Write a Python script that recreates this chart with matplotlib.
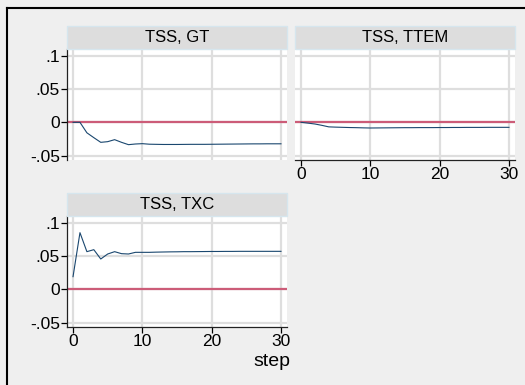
import numpy as np
import matplotlib
matplotlib.use('Agg')
import matplotlib.pyplot as plt
from matplotlib.lines import Line2D
from matplotlib.patches import Rectangle

# ======================================================================================================================
#    Data (impulse responses)
# ======================================================================================================================
steps = list(range(31))

irf_gt = [0.0, 0.0, -0.0157, -0.023, -0.030, -0.029, -0.026, -0.030, -0.0335, -0.0325,
          -0.032, -0.0328, -0.033, -0.0332, -0.0332, -0.0332, -0.0331, -0.033, -0.033, -0.033,
          -0.0329, -0.0328, -0.0327, -0.0326, -0.0325, -0.0324, -0.0323, -0.0323, -0.0322, -0.0322,
          -0.0322]

irf_ttem = [0.0, -0.0012, -0.0025, -0.0045, -0.0068, -0.0072, -0.0075, -0.0078, -0.008, -0.0083,
            -0.0085, -0.0084, -0.0083, -0.0082, -0.0081, -0.008, -0.008, -0.0079, -0.0079, -0.0079,
            -0.0078, -0.0078, -0.0077, -0.0077, -0.0076, -0.0076, -0.0076, -0.0075, -0.0075, -0.0075,
            -0.0075]

irf_txc = [0.019, 0.085, 0.0565, 0.0595, 0.0455, 0.053, 0.0565, 0.0535, 0.053, 0.0555,
           0.0555, 0.0555, 0.0558, 0.056, 0.0562, 0.0563, 0.0565, 0.0565, 0.0566, 0.0567,
           0.0568, 0.0568, 0.0569, 0.0569, 0.057, 0.057, 0.057, 0.057, 0.057, 0.057,
           0.057]

titles = ['TSS, GT', 'TSS, TTEM', 'TSS, TXC']
y_ticks = [-0.05, 0, 0.05, 0.1]
y_tick_labels = ['-.05', '0', '.05', '.1']
x_ticks = [0, 10, 20, 30]

# ======================================================================================================================
#    Style
# ======================================================================================================================
plt.rcParams['font.family'] = ['Liberation Sans', 'DejaVu Sans']
bg_color = '#efefef'
grid_color = '#dedede'
line_color = '#1a476f'
zero_color = '#cc5c78'
header_fill = '#dddddd'
header_edge = '#d6e6ee'

W, H = 525, 385
fig = plt.figure(figsize=(W / 100, H / 100), dpi=100)
fig.patch.set_facecolor(bg_color)

# frame (only top and left visible in the crop)
fig.add_artist(Line2D([7 / W, 7 / W], [0, 1 - 8 / H], color='black', lw=1.5))
fig.add_artist(Line2D([7 / W, 1], [1 - 8 / H, 1 - 8 / H], color='black', lw=1.5))

# panel boxes in pixels: (left, top, width, height)
panels = [
    (67, 49, 220, 111, irf_gt, True, False),
    (295, 49, 220, 111, irf_ttem, False, True),
    (67, 216, 220, 111, irf_txc, True, True),
]

for (px, py, pw, ph, values, show_y, show_x), title in zip(panels, titles):
    ax = fig.add_axes([px / W, 1 - (py + ph) / H, pw / W, ph / H])
    ax.set_facecolor('white')
    ax.set_xlim(-0.87, 30.87)
    ax.set_ylim(-0.0565, 0.110)

    for xv in x_ticks:
        ax.axvline(xv, color=grid_color, lw=1.6, zorder=1)
    for yv in y_ticks:
        ax.axhline(yv, color=grid_color, lw=1.6, zorder=1)

    ax.axhline(0, color=zero_color, lw=1.6, zorder=2)
    ax.plot(steps, values, color=line_color, lw=0.8, zorder=3)

    for side in ['top', 'right', 'left', 'bottom']:
        ax.spines[side].set_visible(False)

    ax.set_yticks(y_ticks)
    ax.set_xticks(x_ticks)
    if show_y:
        ax.spines['left'].set_visible(True)
        ax.spines['left'].set_color('#222222')
        ax.spines['left'].set_linewidth(0.9)
        ax.set_yticklabels(y_tick_labels)
        ax.tick_params(axis='y', direction='out', length=4, width=0.9, pad=1, labelsize=12.5)
    else:
        ax.tick_params(axis='y', left=False, labelleft=False)
    if show_x:
        ax.spines['bottom'].set_visible(True)
        ax.spines['bottom'].set_color('#222222')
        ax.spines['bottom'].set_linewidth(0.9)
        ax.set_xticklabels([str(v) for v in x_ticks])
        ax.tick_params(axis='x', direction='out', length=4, width=0.9, pad=1, labelsize=12.5)
    else:
        ax.tick_params(axis='x', bottom=False, labelbottom=False)

    # header strip above the panel
    hy = py - 23
    fig.add_artist(Rectangle((px / W, 1 - py / H), pw / W, 23 / H, transform=fig.transFigure,
                             facecolor=header_fill, edgecolor=header_edge, lw=1.0))
    fig.text((px + pw / 2) / W, 1 - (hy + 12) / H, title, ha='center', va='center', fontsize=12)

fig.text(290 / W, 1 - 362 / H, 'step', ha='right', va='center', fontsize=14)

fig.savefig('out.png', dpi=100, facecolor=bg_color)
